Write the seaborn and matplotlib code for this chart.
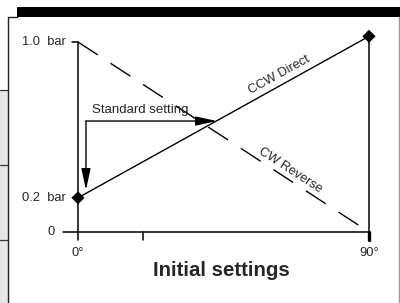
import matplotlib
matplotlib.use("Agg")
import matplotlib.pyplot as plt
from matplotlib.patches import Rectangle
from matplotlib.lines import Line2D
import seaborn as sns
import pandas as pd

# ---- data ----
angles = [0, 90]                 # degrees
ccw_direct = [0.18, 1.03]        # bar
cw_reverse = [1.0, 0.0]          # bar
ytick_vals = [1.0, 0.18, 0.0]
ytick_labels = ["1.0  bar", "0.2  bar", "0"]
xtick_vals = [0, 20, 90]
xtick_labels = ["0°", "", "90°"]
std_setting_angle = 43.0
std_setting_pressure = 0.584
title = "Initial settings"

sns.set_style("white")
plt.rcParams['font.family'] = ['Liberation Sans', 'DejaVu Sans']

W, H = 400, 303
fig = plt.figure(figsize=(W / 100, H / 100), dpi=100)
ax = fig.add_axes([0, 0, 1, 1])
ax.set_xlim(-24.12, 99.59)
ax.set_ylim(-0.3737, 1.2211)
ax.axis("off")

def fx(px):
    return px / W
def fy(py):
    return 1 - py / H

# ---- frame decorations (figure coords) ----
fig.patches.append(Rectangle((fx(0), fy(303)), fx(7.5), fy(90) - fy(303),
                             transform=fig.transFigure, facecolor="#e6e6e6",
                             edgecolor="none", zorder=0))
for py in [90, 165, 240]:
    fig.lines.append(Line2D([fx(0), fx(7.5)], [fy(py), fy(py)],
                            transform=fig.transFigure, color="#333333", lw=0.9))
fig.patches.append(Rectangle((fx(17), fy(16.5)), fx(400) - fx(17), fy(7) - fy(16.5),
                             transform=fig.transFigure, facecolor="black",
                             edgecolor="none"))
fig.lines.append(Line2D([fx(7.5), fx(7.5)], [fy(16.5), fy(303)],
                        transform=fig.transFigure, color="#222222", lw=1.0))
fig.lines.append(Line2D([fx(7.5), fx(17)], [fy(16.5), fy(16.5)],
                        transform=fig.transFigure, color="#222222", lw=1.0))
fig.lines.append(Line2D([fx(398.5), fx(398.5)], [fy(16.5), fy(303)],
                        transform=fig.transFigure, color="#999999", lw=1.0))

# ---- axes drawn as lines ----
k = "black"
lw_ax = 1.1
tick_lo = -0.042
ax.plot([0, 0], [ytick_vals[0], tick_lo], color=k, lw=lw_ax)            # y axis
ax.plot([-1.9, 0], [1.0, 1.0], color=k, lw=lw_ax)                       # 1.0 tick
ax.plot([-4.64, 90], [0, 0], color=k, lw=lw_ax)                         # x axis
ax.plot([90, 90], [ccw_direct[1], 0], color=k, lw=lw_ax)                # right vertical
ax.plot([20, 20], [0, tick_lo], color=k, lw=lw_ax)
ax.plot([90, 90], [0, tick_lo], color=k, lw=2.4)

# ---- series ----
df_ccw = pd.DataFrame({"angle": angles, "pressure": ccw_direct})
df_cw = pd.DataFrame({"angle": angles, "pressure": cw_reverse})
sns.lineplot(data=df_ccw, x="angle", y="pressure", ax=ax, color=k, lw=1.0)
sns.lineplot(data=df_cw, x="angle", y="pressure", ax=ax, color=k, lw=1.0)
ax.lines[-1].set_linestyle((0, (17, 11)))
sns.scatterplot(data=df_ccw, x="angle", y="pressure", ax=ax, color=k,
                marker="D", s=45, edgecolor="none", zorder=5)
ax.axis("off")

# ---- tick labels ----
fs = 9.3
ax.text(-3.9, ytick_vals[0], ytick_labels[0], ha="right", va="center", fontsize=fs)
ax.text(-3.9, ytick_vals[1], ytick_labels[1], ha="right", va="center", fontsize=fs)
ax.text(-7.1, ytick_vals[2], ytick_labels[2], ha="right", va="center", fontsize=fs)
for xv, lab in zip(xtick_vals, xtick_labels):
    if lab:
        ax.text(xv, -0.113, lab, ha="center", va="center", fontsize=fs)

# ---- standard setting arrows ----
corner = (2.47, std_setting_pressure)
arrow_kw = dict(arrowstyle="-|>,head_length=1.3,head_width=0.28", color=k,
                lw=1.0, shrinkA=0, shrinkB=0, mutation_scale=10)
ax.annotate("", xy=(std_setting_angle, std_setting_pressure), xytext=corner,
            arrowprops=arrow_kw)
ax.annotate("", xy=(2.47, 0.221), xytext=corner, arrowprops=arrow_kw)
ax.text(4.3, 0.642, "Standard setting", ha="left", va="center", fontsize=9.5)

# ---- series labels ----
ax.text(62.2, 0.826, "CCW Direct", rotation=29, ha="center", va="center",
        fontsize=9.3, rotation_mode="anchor")
ax.text(65.6, 0.326, "CW Reverse", rotation=-33, ha="center", va="center",
        fontsize=9.3, rotation_mode="anchor")

# ---- title ----
ax.text(44.5, -0.2316, title, ha="center", va="baseline", fontsize=14.7,
        fontweight="bold")

fig.savefig("out.png", dpi=100)
